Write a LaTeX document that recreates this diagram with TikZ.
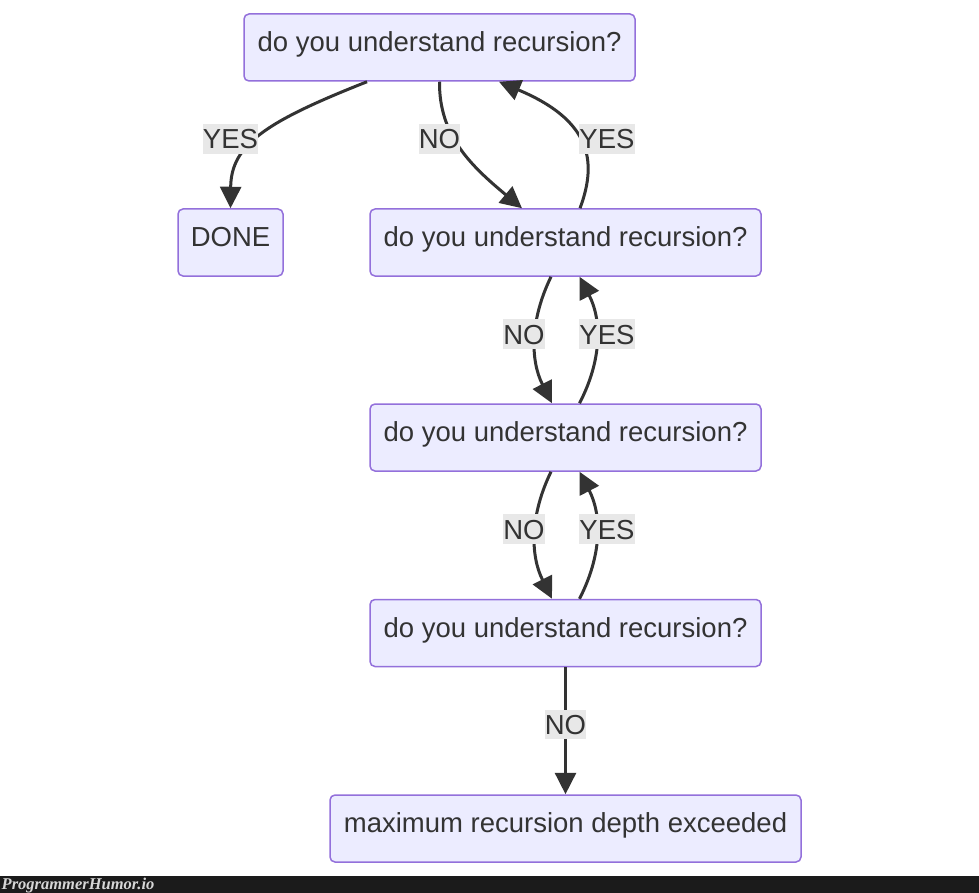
\documentclass[tikz,border=0pt]{standalone}
\usepackage{fontspec}
\setmainfont{Liberation Sans}
\newfontfamily\wmfont{Liberation Serif}
\usetikzlibrary{arrows.meta}
\definecolor{boxfill}{HTML}{ECECFF}
\definecolor{boxline}{HTML}{9370DB}
\definecolor{ink}{HTML}{333333}
\definecolor{lblbg}{HTML}{E8E8E8}
\definecolor{barcol}{HTML}{1B1B1B}
\definecolor{wmtext}{HTML}{D6D6D6}
\begin{document}
\begin{tikzpicture}[x=1pt,y=-1pt,
  box/.style={draw=boxline, fill=boxfill, line width=1.5pt, rounded corners=5pt,
    minimum height=67pt, inner sep=0pt, text=ink,
    font=\fontsize{27.5}{33}\selectfont, text height=20pt, text depth=12pt},
  lbl/.style={fill=lblbg, inner sep=0pt, text=ink,
    font=\fontsize{27.5}{33}\selectfont, text height=24.7pt, text depth=4.7pt},
  conn/.style={draw=ink, line width=3pt, -{Triangle[length=21.5pt,width=21pt]}}]
\useasboundingbox (0,0) rectangle (979,893);
\fill[white] (0,0) rectangle (979,893);

% nodes
\node[box, minimum width=391pt] (a) at (439.5,47.5) {do you understand recursion?};
\node[box, minimum width=105pt] (done) at (230.5,242.5) {DONE};
\node[box, minimum width=391pt] (b) at (565.5,242.5) {do you understand recursion?};
\node[box, minimum width=391pt] (c) at (565.5,437.5) {do you understand recursion?};
\node[box, minimum width=391pt] (d) at (565.5,633) {do you understand recursion?};
\node[box, minimum width=471pt] (e) at (565.5,828.5) {maximum recursion depth exceeded};

% connectors
\draw[conn] ([xshift=-72.5pt]a.south) .. controls (265,122) and (231,145) .. (done.north);
\draw[conn] (a.south) .. controls (439,135) and (470,165) .. ([xshift=-43.5pt]b.north);
\draw[conn] ([xshift=14.5pt]b.north) .. controls (598,160) and (590,120) .. ([xshift=59.5pt]a.south);

\draw[conn] ([xshift=-14.5pt]b.south) .. controls (530,320) and (530,360) .. ([xshift=-13.5pt]c.north);
\draw[conn] ([xshift=14pt]c.north) .. controls (602,360) and (602,320) .. ([xshift=14pt]b.south);

\draw[conn] ([xshift=-14.5pt]c.south) .. controls (530,515) and (530,555) .. ([xshift=-13.5pt]d.north);
\draw[conn] ([xshift=14pt]d.north) .. controls (602,555) and (602,515) .. ([xshift=14pt]c.south);

\draw[conn] (d.south) -- (e.north);

% edge labels
\node[lbl] (l1) at (230.5,139) {YES};
\node[lbl] (l2) at (439.5,139) {NO};
\node[lbl] (l3) at (607,139) {YES};
\node[lbl] (l4) at (524,334) {NO};
\node[lbl] (l5) at (607,334) {YES};
\node[lbl] (l6) at (524,529) {NO};
\node[lbl] (l7) at (607,529) {YES};
\node[lbl] (l8) at (565.5,724.5) {NO};

% watermark bar
\fill[barcol] (0,876) rectangle (979,893);
\node[anchor=base west, inner sep=0pt, text=wmtext,
  font=\wmfont\bfseries\itshape\fontsize{16.5}{18}\selectfont] (wm) at (1.5,889.5) {ProgrammerHumor.io};
\end{tikzpicture}
\end{document}
